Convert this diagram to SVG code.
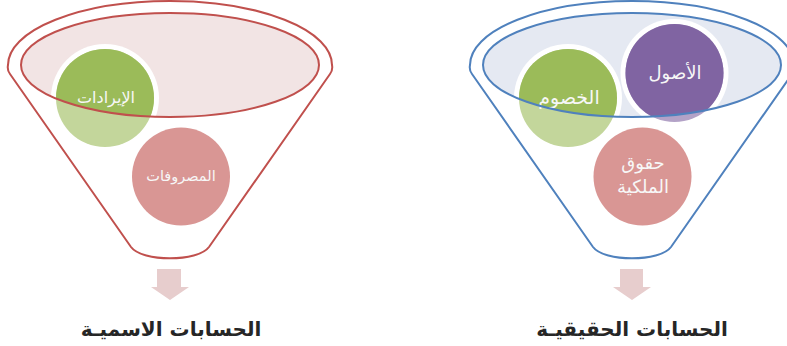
<svg xmlns="http://www.w3.org/2000/svg" width="787" height="346" viewBox="0 0 787 346">
<style>
.lbl{font-family:"DejaVu Sans",sans-serif;font-size:15px;fill:#F7F7F7;text-anchor:middle}
.title{font-family:"DejaVu Sans",sans-serif;font-size:20px;font-weight:bold;fill:#262626;text-anchor:middle}
.ring{fill:#FFFFFF}
.arrow{fill:#E7CDCD}
.red{stroke:#C0504D;stroke-width:2;fill:none}
.blue{stroke:#4F81BD;stroke-width:2;fill:none}
</style>
<defs>
<clipPath id="clipL"><ellipse cx="170" cy="65" rx="149" ry="52"/></clipPath>
<clipPath id="clipR"><ellipse cx="632" cy="65" rx="149" ry="52"/></clipPath>
</defs>

<g id="funnel-left">
<ellipse cx="170" cy="65" rx="149" ry="52" fill="#F2E4E4"/>
<path class="red" d="M131,247 L10,74 Q7,70 8,65 A162,64 0 0 1 332,65 Q333,70 330,74 L209,247 C198,262 142,262 131,247 Z"/>
</g>

<g id="node-revenues">
<circle class="ring" cx="105" cy="98" r="54"/>
<circle cx="105" cy="98" r="49" fill="#C3D69B"/>
<circle cx="105" cy="98" r="49" fill="#9BBB59" clip-path="url(#clipL)"/>
<text class="lbl" x="106" y="103" style="font-size:16px">الإيرادات</text>
</g>

<g id="node-expenses">
<circle cx="181" cy="176.5" r="49" fill="#D99694"/>
<text class="lbl" x="181" y="181" style="font-size:14.5px">المصروفات</text>
</g>

<g id="funnel-left-rim">
<ellipse class="red" cx="170" cy="65" rx="149" ry="52"/>
</g>

<g id="funnel-right">
<ellipse cx="632" cy="65" rx="149" ry="52" fill="#E5E9F2"/>
<path class="blue" d="M593,247 L472,74 Q469,70 470,65 A162,64 0 0 1 794,65 Q795,70 792,74 L671,247 C660,262 604,262 593,247 Z"/>
</g>

<g id="node-liabilities">
<circle class="ring" cx="568" cy="98" r="54"/>
<circle cx="568" cy="98" r="49" fill="#C3D69B"/>
<circle cx="568" cy="98" r="49" fill="#9BBB59" clip-path="url(#clipR)"/>
<text class="lbl" x="569" y="104" style="font-size:19px">الخصوم</text>
</g>

<g id="node-assets">
<circle class="ring" cx="674.5" cy="73" r="54"/>
<circle cx="674.5" cy="73" r="49" fill="#B3A2C7"/>
<circle cx="674.5" cy="73" r="49" fill="#8064A2" clip-path="url(#clipR)"/>
<text class="lbl" x="675" y="79" style="font-size:18px">الأصول</text>
</g>

<g id="node-equity">
<circle cx="642.5" cy="176.5" r="49" fill="#D99694"/>
<text class="lbl" x="643" y="169" style="font-size:18px">حقوق</text>
<text class="lbl" x="643" y="193" style="font-size:18px">الملكية</text>
</g>

<g id="funnel-right-rim">
<ellipse class="blue" cx="632" cy="65" rx="149" ry="52"/>
</g>

<g id="connectors">
<path class="arrow" d="M157,269 H181 V287 H189 L170,300 L151,287 H157 Z"/>
<path class="arrow" d="M620,269 H643 V287 H651 L632,300 L613,287 H620 Z"/>
</g>

<g id="title-left">
<text class="title" x="171" y="336">الحسابات الاسميـة</text>
</g>
<g id="title-right">
<text class="title" x="632" y="336">الحسابات الحقيقيـة</text>
</g>
</svg>
